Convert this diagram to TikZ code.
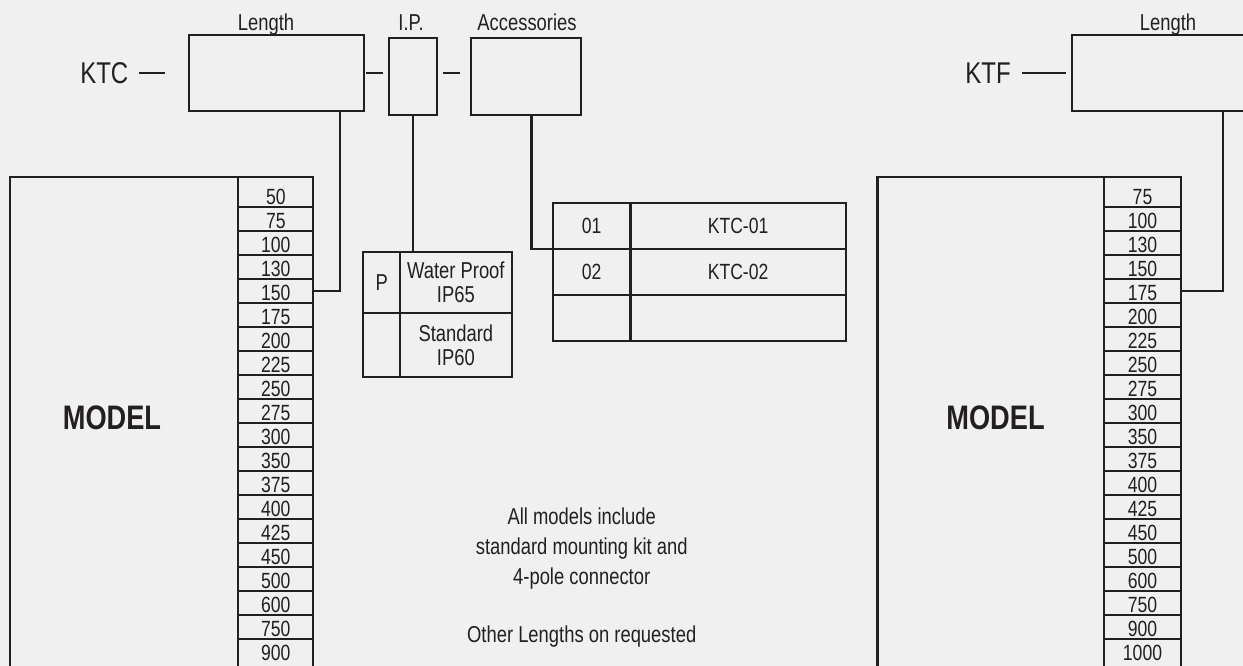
\documentclass[tikz,border=0pt]{standalone}
\usepackage{fontspec}
\setmainfont{Liberation Sans}[FakeStretch=0.8]
\usetikzlibrary{positioning, calc}
\definecolor{pagegray}{HTML}{F0F0F0}
\definecolor{inkgray}{HTML}{231F20}

\begin{document}
\begin{tikzpicture}[
  x=1pt, y=-1pt,
  frame/.style={rectangle, draw=inkgray, line width=2.3pt, inner sep=0pt, outer sep=0pt, text=inkgray},
  cell/.style={frame, minimum width=75pt, minimum height=24pt, font=\fontsize{22}{22}\selectfont, text height=20pt, text depth=0pt},
  ipcell/.style={frame, align=center, font=\fontsize{23}{24}\selectfont},
  acccell/.style={frame, minimum height=46pt, font=\fontsize{22}{22}\selectfont},
  lbl/.style={inner sep=0pt, text=inkgray, font=\fontsize{23}{24}\selectfont},
  code/.style={inner sep=0pt, text=inkgray, font=\fontsize{30}{30}\selectfont},
  modeltxt/.style={inner sep=0pt, text=inkgray, font=\fontsize{34}{34}\selectfont\bfseries},
  link/.style={draw=inkgray, line width=2.3pt}
]
\useasboundingbox (0,0) rectangle (1243,666);
\fill[pagegray] (0,0) rectangle (1243,666);

% KTC code
\node[code, anchor=base east] (ktc) at (128.5,83.3) {KTC};
\node[frame, anchor=north west, minimum width=175pt, minimum height=76pt] (lenC) at (189,35) {};
\node[frame, anchor=north west, minimum width=48pt, minimum height=77pt] (ipC) at (389,38) {};
\node[frame, anchor=north west, minimum width=110pt, minimum height=77pt] (accC) at (471,38) {};
\node[lbl, anchor=base] (lenClbl) at (266,30.7) {Length};
\node[lbl, anchor=base] (ipClbl) at (411,30.7) {I.P.};
\node[lbl, anchor=base] (accClbl) at (527,30.7) {Accessories};

\draw[link, shorten <=10.5pt, shorten >=24pt] (ktc.east) -- (ktc.east -| lenC.west);
\draw[link, shorten <=2pt, shorten >=6pt] (ktc.east -| lenC.east) -- (ktc.east -| ipC.west);
\draw[link, shorten <=6pt, shorten >=11pt] (ktc.east -| ipC.east) -- (ktc.east -| accC.west);

% KTC model and lengths
\node[frame, anchor=north west, minimum width=228.3pt, minimum height=540pt] (modelC) at (10,176.7) {};
\node[modeltxt] (modelClbl) at (112,418) {MODEL};
\node[cell, anchor=north west, minimum height=30pt, text height=26pt] (lc1) at (238.3,176.7) {50};
\foreach \v [count=\i from 2, remember=\i as \j (initially 1)] in {75,100,130,150,175,200,225,250,275,300,350,375,400,425,450,500,600,750}
  \node[cell, below=0pt of lc\j] (lc\i) {\v};
\node[cell, below=0pt of lc19, minimum height=40pt, text depth=16pt] (lc20) {900};

\draw[link] ([xshift=-24pt]lenC.south east) |- (lc5.east);

% I.P. table
\node[ipcell, anchor=north west, minimum width=36.7pt, minimum height=61pt] (ipP) at (363.3,251.7) {P};
\node[ipcell, anchor=north west, minimum width=111.7pt, minimum height=61pt] (ipWP) at (ipP.north east) {Water Proof\\IP65};
\node[ipcell, below=0pt of ipP, minimum width=36.7pt, minimum height=64.6pt] (ipE) {};
\node[ipcell, below=0pt of ipWP, minimum width=111.7pt, minimum height=64.6pt] (ipStd) {Standard\\IP60};

\draw[link] (ipC.south) -- (ipC.south |- ipWP.north);

% Accessories table
\node[acccell, anchor=north west, minimum width=77.8pt] (acc1) at (552.7,203.3) {01};
\node[acccell, anchor=north west, minimum width=215.2pt] (accK1) at (acc1.north east) {KTC-01};
\node[acccell, below=0pt of acc1, minimum width=77.8pt] (acc2) {02};
\node[acccell, below=0pt of accK1, minimum width=215.2pt] (accK2) {KTC-02};
\node[acccell, below=0pt of acc2, minimum width=77.8pt] (acc3) {};
\node[acccell, below=0pt of accK2, minimum width=215.2pt] (accK3) {};

\draw[link] ([xshift=5.5pt]accC.south) |- (acc1.south west);

% Notes
\node[lbl, align=center, font=\fontsize{23}{30}\selectfont] (note) at (581.7,548.3) {All models include\\standard mounting kit and\\4-pole connector};
\node[lbl] (noteLen) at (581.7,636.7) {Other Lengths on requested};

% KTF code
\node[code, anchor=base east] (ktf) at (1011,83.3) {KTF};
\node[frame, anchor=north west, minimum width=175pt, minimum height=76pt] (lenF) at (1072,35) {};
\node[lbl, anchor=base] (lenFlbl) at (1168,30.7) {Length};
\draw[link, shorten <=11pt, shorten >=6pt] (ktf.east) -- (ktf.east -| lenF.west);

% KTF model and lengths
\node[frame, anchor=north west, minimum width=226.8pt, minimum height=540pt] (modelF) at (877.5,176.7) {};
\node[modeltxt] (modelFlbl) at (995.5,417.5) {MODEL};
\node[cell, anchor=north west, minimum width=76.4pt, minimum height=30pt, text height=26pt] (rc1) at (1104.3,176.7) {75};
\foreach \v [count=\i from 2, remember=\i as \j (initially 1)] in {100,130,150,175,200,225,250,275,300,350,375,400,425,450,500,600,750,900}
  \node[cell, minimum width=76.4pt, below=0pt of rc\j] (rc\i) {\v};
\node[cell, below=0pt of rc19, minimum width=76.4pt, minimum height=40pt, text depth=16pt] (rc20) {1000};

\draw[link] ([xshift=-24pt]lenF.south east) |- (rc5.east);

\end{tikzpicture}
\end{document}
